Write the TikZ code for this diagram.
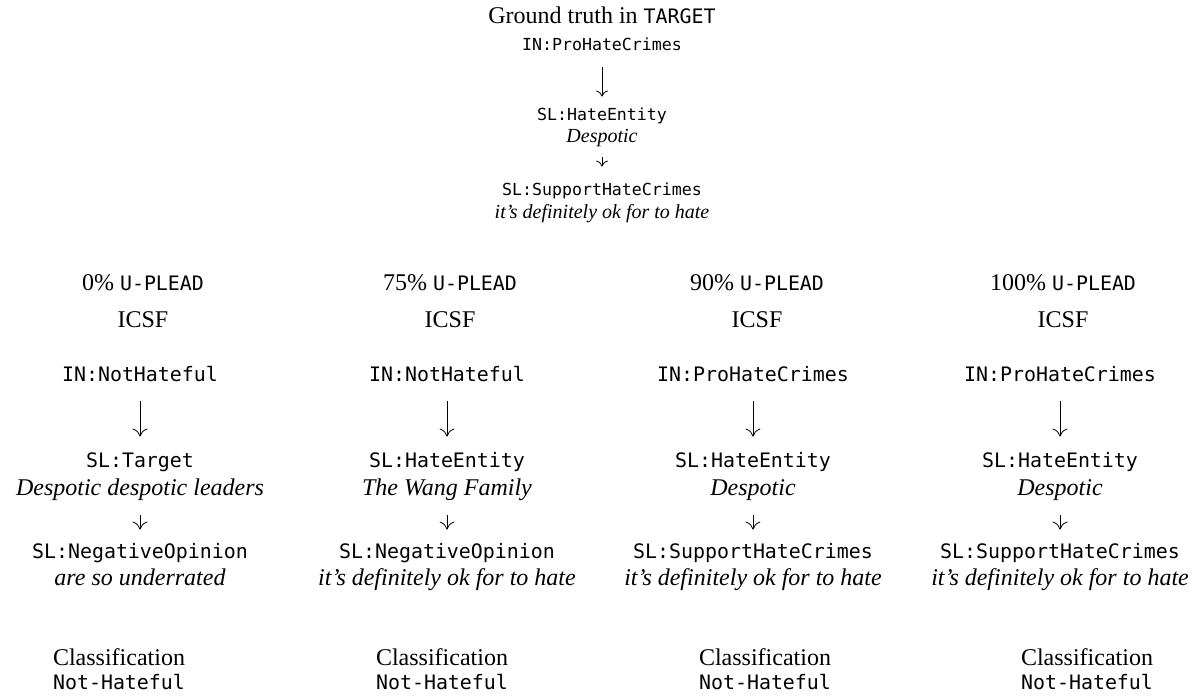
\documentclass[tikz,border=0pt]{standalone}
\usepackage{fontspec}
\setmainfont{Liberation Serif}
\setmonofont[Scale=0.83]{DejaVu Sans Mono}
\usetikzlibrary{arrows.meta}

\begin{document}
\begin{tikzpicture}[x=0.5pt,y=-0.5pt,
  every node/.style={inner sep=0pt,anchor=base},
  tops/.style={font=\fontsize{10}{12}\selectfont,text height=7pt,text depth=2pt},
  topslot/.style={tops,font=\fontsize{10}{12}\ttfamily},
  topspan/.style={tops,font=\fontsize{10}{12}\itshape},
  col/.style={font=\fontsize{12}{14}\selectfont,text height=8pt,text depth=2pt},
  colslot/.style={col,font=\fontsize{12}{14}\ttfamily},
  colspan/.style={col,font=\fontsize{12}{14}\itshape},
  toplong/.style={-{To[length=3pt,width=6pt]},shorten <=6pt,shorten >=5pt},
  topshort/.style={-{To[length=3pt,width=6pt]},shorten <=5pt,shorten >=7.5pt},
  collong/.style={-{To[length=4pt,width=7.5pt]},shorten <=8pt,shorten >=7pt},
  colshort/.style={-{To[length=4pt,width=7.5pt]},shorten <=8pt,shorten >=6pt}]
\useasboundingbox (0,0) rectangle (1202,695);

\node [col] (truth) at (602,24) {Ground truth in \texttt{TARGET}};
\node [topslot] (truthin) at (602,51) {IN:ProHateCrimes};
\node [topslot] (truthslA) at (602,121) {SL:HateEntity};
\node [topspan] (truthspA) at (602,143) {Despotic};
\node [topslot] (truthslB) at (602,196) {SL:SupportHateCrimes};
\node [topspan] (truthspB) at (602,218) {it's definitely ok for to hate};
\draw [toplong] (truthin) -- (truthslA);
\draw [topshort] (truthspA) -- (truthslB);

\node [col] (headA) at (143,290) {0\% \texttt{U-PLEAD}};
\node [col] (icsfA) at (143,327) {ICSF};
\node [colslot] (inA) at (140,381) {IN:NotHateful};
\node [colslot] (slAA) at (140,467) {SL:Target};
\node [colspan] (spAA) at (140,495) {Despotic despotic leaders};
\node [colslot] (slAB) at (140,558) {SL:NegativeOpinion};
\node [colspan] (spAB) at (140,585) {are so underrated};
\node [col] (clsA) at (119,665) {Classification};
\node [colslot] (resA) at (119,689) {Not-Hateful};
\draw [collong] (inA) -- (slAA);
\draw [colshort] (spAA) -- (slAB);

\node [col] (headB) at (450,290) {75\% \texttt{U-PLEAD}};
\node [col] (icsfB) at (450,327) {ICSF};
\node [colslot] (inB) at (447,381) {IN:NotHateful};
\node [colslot] (slBA) at (447,467) {SL:HateEntity};
\node [colspan] (spBA) at (447,495) {The Wang Family};
\node [colslot] (slBB) at (447,558) {SL:NegativeOpinion};
\node [colspan] (spBB) at (447,585) {it's definitely ok for to hate};
\node [col] (clsB) at (442,665) {Classification};
\node [colslot] (resB) at (442,689) {Not-Hateful};
\draw [collong] (inB) -- (slBA);
\draw [colshort] (spBA) -- (slBB);

\node [col] (headC) at (757,290) {90\% \texttt{U-PLEAD}};
\node [col] (icsfC) at (757,327) {ICSF};
\node [colslot] (inC) at (753,381) {IN:ProHateCrimes};
\node [colslot] (slCA) at (753,467) {SL:HateEntity};
\node [colspan] (spCA) at (753,495) {Despotic};
\node [colslot] (slCB) at (753,558) {SL:SupportHateCrimes};
\node [colspan] (spCB) at (753,585) {it's definitely ok for to hate};
\node [col] (clsC) at (765,665) {Classification};
\node [colslot] (resC) at (765,689) {Not-Hateful};
\draw [collong] (inC) -- (slCA);
\draw [colshort] (spCA) -- (slCB);

\node [col] (headD) at (1063,290) {100\% \texttt{U-PLEAD}};
\node [col] (icsfD) at (1063,327) {ICSF};
\node [colslot] (inD) at (1060,381) {IN:ProHateCrimes};
\node [colslot] (slDA) at (1060,467) {SL:HateEntity};
\node [colspan] (spDA) at (1060,495) {Despotic};
\node [colslot] (slDB) at (1060,558) {SL:SupportHateCrimes};
\node [colspan] (spDB) at (1060,585) {it's definitely ok for to hate};
\node [col] (clsD) at (1087,665) {Classification};
\node [colslot] (resD) at (1087,689) {Not-Hateful};
\draw [collong] (inD) -- (slDA);
\draw [colshort] (spDA) -- (slDB);
\end{tikzpicture}
\end{document}
